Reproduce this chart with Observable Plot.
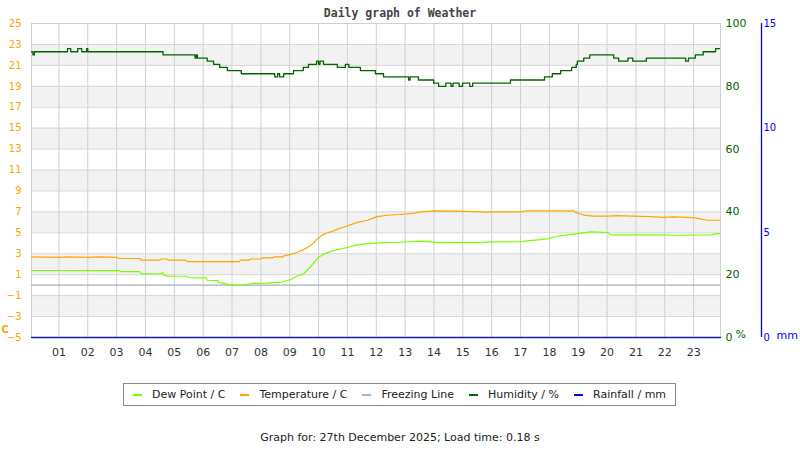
<!DOCTYPE html>
<html><head><meta charset="utf-8">
<script src="https://cdn.jsdelivr.net/npm/d3@7"></script>
<script src="https://cdn.jsdelivr.net/npm/@observablehq/plot@0.6"></script>
<style>
body{margin:0;background:#fff;width:800px;height:450px;position:relative;font-family:"DejaVu Sans",sans-serif;overflow:hidden}
#title{position:absolute;top:6px;left:0;width:800px;text-align:center;font:bold 11.5px "DejaVu Sans Mono",monospace;color:#444;z-index:2}
#chart{position:absolute;top:0;left:0;z-index:1}
#legend{position:absolute;left:123px;top:383px;width:553px;height:23px;border:1px solid #888;box-sizing:border-box;display:flex;align-items:center;justify-content:center;gap:15px;font-size:11px;color:#222}
.sw{display:inline-block;width:9px;height:2px;margin-right:10px;vertical-align:middle}
#caption{position:absolute;top:431px;left:0;width:800px;text-align:center;font-size:11px;color:#222}
</style></head>
<body>
<div id="chart"></div>
<div id="title">Daily graph of Weather</div>
<div id="legend"></div>
<div id="caption">Graph for: 27th December 2025; Load time: 0.18 s</div>
<script>
// ---- data ----
const hours = d3.range(1, 24);
const cTicks = d3.range(-5, 26, 2);
const humTicks = [0, 20, 40, 60, 80, 100];
const rainTicks = [0, 5, 10, 15];

const tempT = [0.05,1.0,1.3,2.0,2.4,3.0,3.1,3.8,3.85,4.5,4.55,4.75,4.8,5.4,5.45,7.25,7.3,7.6,7.65,8.0,8.06,8.4,8.45,8.75,8.8,9.04,9.26,9.44,9.61,9.78,9.95,10.13,10.36,10.53,10.65,10.99,11.34,11.69,12.03,12.38,12.84,13.25,13.53,14.0,15.15,15.85,16.06,17.0,17.23,18.16,18.85,18.9,19.08,19.19,19.53,20.0,20.36,20.88,21.5,21.95,22.3,23.0,23.24,23.47,23.93];
const tempV = [2.7,2.65,2.7,2.65,2.7,2.65,2.55,2.55,2.4,2.4,2.5,2.5,2.4,2.4,2.25,2.25,2.4,2.4,2.5,2.5,2.6,2.6,2.7,2.7,2.8,2.95,3.15,3.35,3.6,3.9,4.4,4.8,5.05,5.2,5.35,5.65,6.0,6.2,6.55,6.68,6.75,6.85,7.0,7.1,7.05,6.97,7.0,7.0,7.1,7.1,7.1,6.95,6.8,6.7,6.6,6.6,6.65,6.6,6.55,6.47,6.52,6.45,6.33,6.2,6.2];

const dewT = [0.05,1.3,2.0,3.1,3.15,3.8,3.85,4.55,4.6,4.64,4.8,5.45,5.5,6.1,6.14,6.5,6.55,6.84,7.3,7.6,7.64,8.22,8.74,9.04,9.26,9.49,9.72,10.01,10.18,10.42,10.65,10.99,11.34,11.8,12.26,12.84,13.53,14.23,15.61,16.06,17.0,17.23,17.92,18.16,18.62,18.96,19.42,20.01,20.12,20.22,21.95,22.3,23.6,23.81,23.93];
const dewV = [1.4,1.4,1.38,1.38,1.3,1.3,1.07,1.1,1.25,0.92,0.85,0.85,0.73,0.7,0.47,0.44,0.25,0.1,-0.03,0.1,0.16,0.2,0.3,0.54,0.88,1.1,1.74,2.7,2.96,3.2,3.4,3.6,3.85,4.0,4.07,4.1,4.2,4.07,4.07,4.13,4.15,4.23,4.42,4.6,4.8,4.93,5.09,5.03,4.84,4.8,4.8,4.77,4.8,4.93,4.93];

const humT = [0.05,0.1,0.15,1.30,1.41,1.65,1.79,1.96,2.0,4.61,5.72,5.76,5.80,6.14,6.36,6.57,6.84,7.32,8.48,8.58,8.65,8.79,9.13,9.47,9.65,9.93,10.0,10.05,10.17,10.65,10.93,11.05,11.45,11.97,12.25,13.12,13.17,13.46,13.99,14.16,14.41,14.59,14.66,14.87,14.99,15.24,15.34,16.65,17.83,18.10,18.39,18.77,18.93,18.97,19.19,19.40,20.23,20.40,20.72,20.89,21.36,22.72,22.82,23.06,23.33,23.76,23.93];
const humV = [91,90,91,92,91,92,91,92,91,90,89,90,89,88,87,86,85,84,83,84,83,84,85,86,87,88,87,88,87,86,87,86,85,84,83,82,83,82,81,80,81,80,81,80,81,80,81,82,83,84,85,86,87,88,89,90,89,88,89,88,89,88,89,90,91,92,92];

const rainT = [0.05, 23.93];
const rainV = [0, 0];
const freezing = [0];

const xDomain = [0.05, 23.93];
const humToC = h => -5 + h * 0.3;
const rainToC = r => -5 + r * 2;

const series = [
  {name: "Dew Point / C", color: "#7CFC00"},
  {name: "Temperature / C", color: "#FFA500"},
  {name: "Freezing Line", color: "#a8b4c8"},
  {name: "Humidity / %", color: "#006400"},
  {name: "Rainfall / mm", color: "#0000ff"}
];

const temp = tempT.map((t, i) => ({t, v: tempV[i]}));
const dew = dewT.map((t, i) => ({t, v: dewV[i]}));
const hum = humT.map((t, i) => ({t, v: humV[i]}));
const rain = rainT.map((t, i) => ({t, v: rainV[i]}));
const bands = cTicks.filter((d, i) => i % 2 === 1 && d < 25);

const chart = Plot.plot({
  width: 800, height: 370,
  marginLeft: 31, marginRight: 80, marginTop: 23, marginBottom: 33,
  style: {fontFamily: "DejaVu Sans, sans-serif", background: "white"},
  x: {domain: xDomain, label: null},
  y: {domain: [-5, 25], label: null},
  marks: [
    Plot.rect(bands, {x1: () => xDomain[0], x2: () => xDomain[1], y1: d => d, y2: d => d + 2, fill: "#f2f2f2"}),
    Plot.gridY(cTicks, {stroke: "#d6d6d6", strokeOpacity: 1}),
    Plot.gridX(hours, {stroke: "#d0d0d0", strokeOpacity: 1}),
    Plot.frame({stroke: "#d0d0d0"}),
    Plot.ruleY(freezing, {stroke: "#a4aec0", strokeWidth: 1.2}),
    Plot.line(dew, {x: "t", y: "v", stroke: series[0].color, strokeWidth: 1.2, clip: true}),
    Plot.line(temp, {x: "t", y: "v", stroke: series[1].color, strokeWidth: 1.2, clip: true}),
    Plot.line(hum, {x: "t", y: d => humToC(d.v), stroke: series[3].color, strokeWidth: 1.3, curve: "step-after", clip: true}),
    Plot.ruleY([-5], {stroke: "#111", strokeWidth: 1}),
    Plot.line(rain, {x: "t", y: d => rainToC(d.v), stroke: "#1a1ab0", strokeWidth: 1.3}),
    Plot.axisY(cTicks, {anchor: "left", label: null, tickSize: 0, tickPadding: 10, fill: "#FFA500", fontSize: 10}),
    Plot.axisY(humTicks.map(humToC), {anchor: "right", label: null, tickSize: 0, tickPadding: 5, tickFormat: d => Math.round((d + 5) / 0.3), fill: "#006400", fontSize: 11}),
    Plot.axisY(rainTicks.map(rainToC), {anchor: "right", label: null, tickSize: 0, tickPadding: 43, tickFormat: d => Math.round((d + 5) / 2), fill: "#0000ff", fontSize: 10}),
    Plot.ruleX([xDomain[1]], {dx: 41, stroke: "#0000ff", strokeWidth: 1.3}),
    Plot.axisX(hours, {anchor: "bottom", label: null, tickSize: 0, tickPadding: 11, tickFormat: d => String(d).padStart(2, "0"), fill: "#333", fontSize: 11}),
    Plot.text(["C"], {text: d => d, frameAnchor: "bottom-left", textAnchor: "start", lineAnchor: "bottom", dx: -30, dy: -5, fill: "#FFA500", fontWeight: "bold", fontSize: 10}),
    Plot.text(["%"], {text: d => d, frameAnchor: "bottom-right", textAnchor: "start", lineAnchor: "bottom", dx: 15, dy: 0, fill: "#006400", fontSize: 11}),
    Plot.text(["mm"], {text: d => d, frameAnchor: "bottom-right", textAnchor: "start", lineAnchor: "bottom", dx: 56, dy: 1, fill: "#0000ff", fontSize: 11})
  ]
});
document.getElementById("chart").appendChild(chart);

const lg = document.getElementById("legend");
series.forEach(s => {
  const item = document.createElement("span");
  item.innerHTML = `<span class="sw" style="background:${s.color}"></span>${s.name}`;
  lg.appendChild(item);
});
</script>
</body></html>
